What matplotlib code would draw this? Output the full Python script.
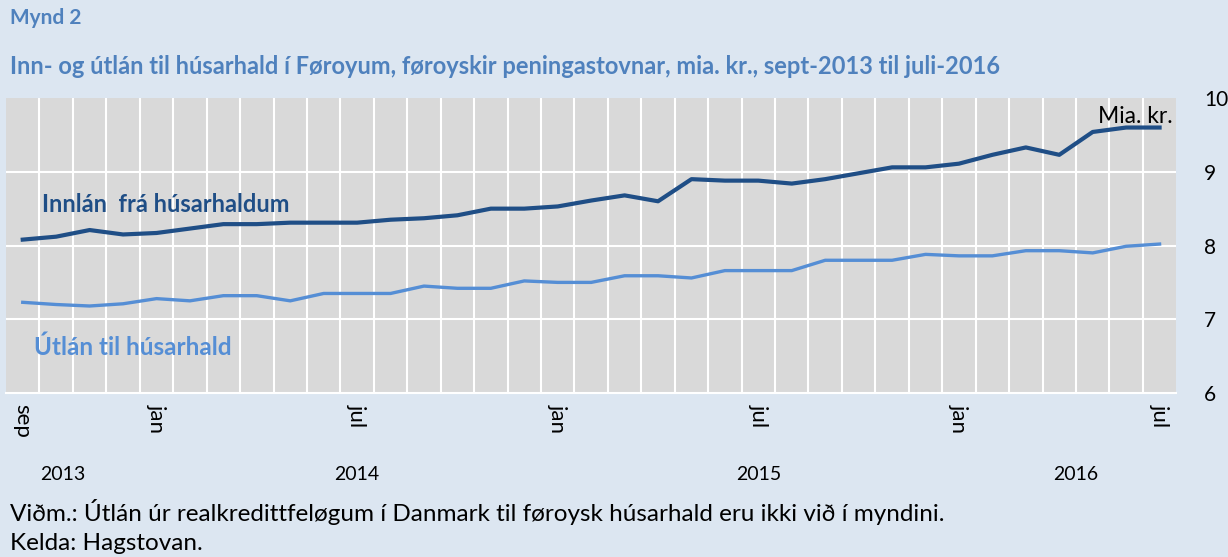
#plot of household deposits and loans in the Faroe Islands

import matplotlib.pyplot as plt
import numpy as np

# data, one value per month sep 2013 - jul 2016
innlan = [8.08, 8.12, 8.21, 8.15, 8.17, 8.23, 8.29, 8.29, 8.31, 8.31, 8.31, 8.35,
          8.37, 8.41, 8.50, 8.50, 8.53, 8.61, 8.68, 8.60, 8.90, 8.88, 8.88, 8.84,
          8.90, 8.98, 9.06, 9.06, 9.11, 9.23, 9.33, 9.23, 9.54, 9.60, 9.60]
utlan = [7.23, 7.20, 7.18, 7.21, 7.28, 7.25, 7.32, 7.32, 7.25, 7.35, 7.35, 7.35,
         7.45, 7.42, 7.42, 7.52, 7.50, 7.50, 7.59, 7.59, 7.56, 7.66, 7.66, 7.66,
         7.80, 7.80, 7.80, 7.88, 7.86, 7.86, 7.93, 7.93, 7.90, 7.99, 8.02]
month_ticks = [0, 4, 10, 16, 22, 28, 34]
month_labels = ["sep", "jan", "jul", "jan", "jul", "jan", "jul"]
years = ["2013", "2014", "2015", "2016"]
year_pos = [1.2, 10, 22, 31.5]

bg = "#dce6f1"
dark = "#1f4e86"
light = "#558ed5"
head = "#4f81bd"

plt.rcParams["font.family"] = ["Lato", "DejaVu Sans"]

fig = plt.figure(figsize=(12.28, 5.57), dpi=100)
fig.patch.set_facecolor(bg)
ax = fig.add_axes([0.0049, 0.2944, 0.953, 0.5296])
ax.set_facecolor("#d9d9d9")

x = np.arange(len(innlan))
ax.plot(x, innlan, color=dark, lw=3.0, solid_joinstyle="round", zorder=3)
ax.plot(x, utlan, color=light, lw=2.4, solid_joinstyle="round", zorder=3)

ax.set_xlim(-0.5, len(innlan) - 0.5)
ax.set_ylim(6, 10)

# white grid: category boundaries and whole numbers
for b in np.arange(0.5, len(innlan) - 0.5, 1):
    ax.axvline(b, color="white", lw=1.5, zorder=1)
for v in [7, 8, 9]:
    ax.axhline(v, color="white", lw=1.5, zorder=1)

for s in ax.spines.values():
    s.set_visible(False)
ax.spines["bottom"].set_visible(True)
ax.spines["bottom"].set_color("white")
ax.spines["bottom"].set_linewidth(1.5)

ax.yaxis.tick_right()
ax.set_yticks([6, 7, 8, 9, 10])
ax.tick_params(axis="y", length=0, pad=20, labelsize=15)
ax.set_xticks(month_ticks)
ax.set_xticklabels(month_labels, rotation=-90, fontsize=16, va="top")
ax.tick_params(axis="x", length=0, pad=8)

for yr, p in zip(years, year_pos):
    ax.text(p, -0.275, yr, transform=ax.get_xaxis_transform(), ha="center",
            va="center", fontsize=14)

ax.text(0.57, 8.55, "Innlán  frá húsarhaldum", color=dark, fontsize=17,
        fontweight="bold", va="center")
ax.text(0.33, 6.62, "Útlán til húsarhald", color=light, fontsize=17.5,
        fontweight="bold", va="center")
ax.text(0.997, 9.75, "Mia. kr.", transform=ax.get_yaxis_transform(), ha="right",
        va="center", fontsize=16.5)

fig.text(0.008, 0.967, "Mynd 2", color=head, fontsize=15, fontweight="bold", va="center")
fig.text(0.008, 0.88, "Inn- og útlán til húsarhald í Føroyum, føroyskir peningastovnar, mia. kr., sept-2013 til juli-2016",
         color=head, fontsize=17, fontweight="bold", va="center")
fig.text(0.008, 0.081, "Viðm.: Útlán úr realkredittfeløgum í Danmark til føroysk húsarhald eru ikki við í myndini.",
         fontsize=17.5, va="center")
fig.text(0.008, 0.025, "Kelda: Hagstovan.", fontsize=17.5, va="center")

fig.savefig("out.png", dpi=100, facecolor=bg)
